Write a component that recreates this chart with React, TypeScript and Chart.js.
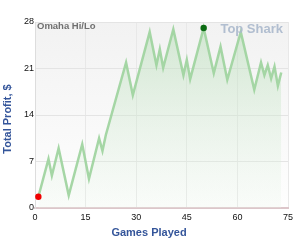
import React, { useEffect, useRef } from "react";
import { Chart, registerables } from "chart.js";

Chart.register(...registerables);

const games = [1, 4, 5, 7, 10, 14, 16, 19, 20, 21, 27, 29, 34, 36, 37, 38, 41, 44, 45, 46, 50, 53, 55, 57, 61, 65, 67, 68, 69, 70, 71, 72, 73];
const profit = [1.7, 7.4, 4.9, 9.0, 1.9, 9.6, 4.4, 10.5, 8.6, 11.0, 21.9, 17.0, 26.5, 21.5, 23.9, 21.1, 26.9, 20.0, 22.3, 19.4, 27.1, 20.3, 24.3, 19.3, 26.5, 17.8, 21.9, 20.0, 21.5, 19.5, 21.3, 18.4, 20.4];
const xTickStep = 15;
const yTickStep = 7;
const xMax = 75;
const yMax = 28;
const gameLabel = "Omaha Hi/Lo";
const watermark = "Top Shark";
const xTitle = "Games Played";
const yTitle = "Total Profit, $";

const FONT = "'Liberation Sans', Arial, sans-serif";

export default function App() {
  const ref = useRef<HTMLCanvasElement | null>(null);
  useEffect(() => {
    if (!ref.current) return;
    const maxIdx = profit.indexOf(Math.max(...profit));
    const minIdx = profit.indexOf(Math.min(...profit));
    const radii = profit.map((_, i) => (i === maxIdx || i === minIdx ? 3.2 : 0));
    const pColors = profit.map((_, i) => (i === maxIdx ? "#0b6b12" : i === minIdx ? "#f00000" : "rgba(0,0,0,0)"));

    const bgPlugin = {
      id: "bg",
      beforeDraw(chart: any) {
        const { ctx, chartArea: a } = chart;
        const g = ctx.createLinearGradient(0, a.top, 0, a.bottom);
        g.addColorStop(0, "#f2f2f2");
        g.addColorStop(1, "#fefefe");
        ctx.save();
        ctx.fillStyle = g;
        ctx.fillRect(a.left, a.top, a.right - a.left, a.bottom - a.top);
        ctx.restore();
      },
    };
    const textPlugin = {
      id: "texts",
      afterDatasetsDraw(chart: any) {
        const { ctx, chartArea: a } = chart;
        ctx.save();
        ctx.textBaseline = "middle";
        ctx.font = `bold 9.5px ${FONT}`;
        ctx.fillStyle = "#707070";
        ctx.textAlign = "left";
        ctx.fillText(gameLabel, a.left + 2, a.top + 4.5);
        ctx.font = `bold 13px ${FONT}`;
        ctx.fillStyle = "rgba(170,184,204,0.9)";
        ctx.textAlign = "right";
        ctx.fillText(watermark, a.right - 5, a.top + 7);
        ctx.font = `bold 11px ${FONT}`;
        ctx.fillStyle = "#34559a";
        ctx.textAlign = "center";
        ctx.fillText(xTitle, 149, 233);
        ctx.translate(8, 119);
        ctx.rotate(-Math.PI / 2);
        ctx.fillText(yTitle, 0, 0);
        ctx.restore();
      },
    };

    const chart = new Chart(ref.current, {
      type: "line",
      data: {
        datasets: [
          {
            data: games.map((g, i) => ({ x: g, y: profit[i] })),
            borderColor: "rgba(160,212,160,0.95)",
            borderWidth: 2.5,
            tension: 0,
            fill: "origin",
            backgroundColor: (c: any) => {
              const a = c.chart.chartArea;
              if (!a) return "rgba(200,230,200,0.4)";
              const g = c.chart.ctx.createLinearGradient(0, a.top, 0, a.bottom);
              g.addColorStop(0, "rgba(175,218,175,0.5)");
              g.addColorStop(1, "rgba(235,246,235,0.25)");
              return g;
            },
            pointRadius: radii,
            pointHoverRadius: radii,
            pointBackgroundColor: pColors,
            pointBorderColor: pColors,
            pointBorderWidth: 0,
          },
        ],
      },
      options: {
        animation: false,
        responsive: false,
        events: [],
        layout: { padding: { top: 22, right: 12, left: 0, bottom: 0 } },
        plugins: { legend: { display: false }, tooltip: { enabled: false } },
        scales: {
          x: {
            type: "linear",
            min: 0,
            max: xMax,
            ticks: { stepSize: xTickStep, font: { size: 9, family: FONT }, color: "#111", padding: 4 },
            grid: { color: "#e8e8e8", drawTicks: false },
            border: { color: "#dcc6ca", width: 2 },
            afterFit(s: any) {
              s.height = 32;
            },
          },
          y: {
            type: "linear",
            min: 0,
            max: yMax,
            ticks: { stepSize: yTickStep, font: { size: 9, family: FONT }, color: "#111", padding: 1 },
            grid: { color: "#e4e4e4", drawTicks: false },
            border: { color: "#dddddd", width: 1 },
            afterFit(s: any) {
              s.width = 35;
            },
          },
        },
      },
      plugins: [bgPlugin, textPlugin],
    });
    return () => chart.destroy();
  }, []);
  return (
    <div style={{ position: "fixed", left: 0, top: 0, width: 300, height: 240, background: "#fff" }}>
      <canvas ref={ref} width={300} height={240} style={{ display: "block" }} />
    </div>
  );
}
